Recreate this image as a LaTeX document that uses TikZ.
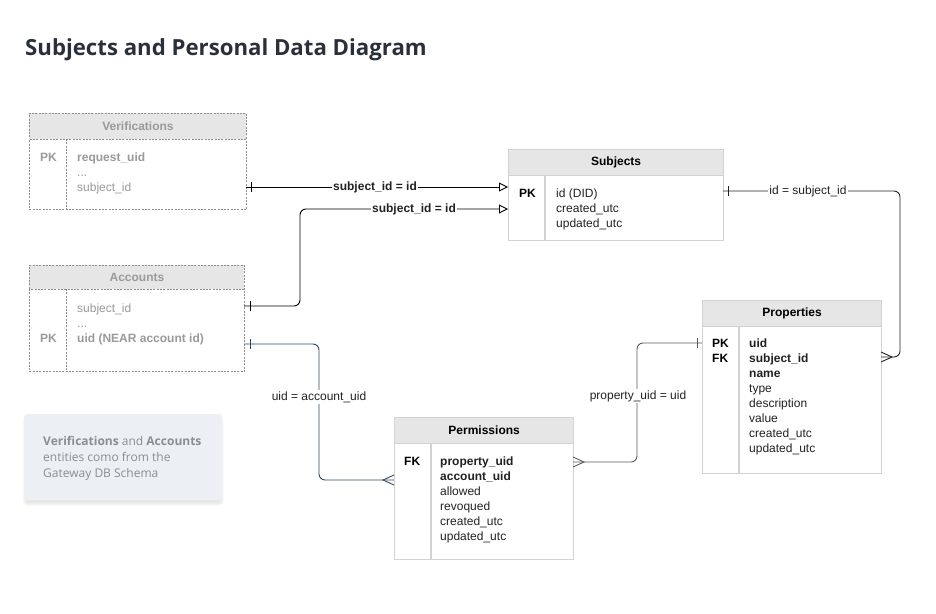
\documentclass[tikz,border=0pt]{standalone}
\usepackage{fontspec}
\setmainfont{Liberation Sans}
\newfontfamily\titlefont{Open Sans}
\usetikzlibrary{arrows.meta,shadows.blur}
\definecolor{hdr}{HTML}{E6E6E6}
\definecolor{bord}{HTML}{D2D2D2}
\definecolor{dbord}{HTML}{8E8E8E}
\definecolor{ltxt}{HTML}{9A9A9A}
\definecolor{txt}{HTML}{222222}
\definecolor{ttl}{HTML}{2A303B}
\definecolor{notebg}{HTML}{ECEFF3}
\definecolor{notetxt}{HTML}{8A8D92}
\definecolor{slate}{HTML}{34495E}
\definecolor{cgray}{HTML}{5A5A5A}
\newcommand\fs{\fontsize{12}{15}\selectfont}
\tikzset{
  tbl/.style={draw=bord, line width=1.3pt, fill=white, anchor=north west, inner sep=0pt},
  hdrbox/.style={tbl, fill=hdr, font=\fs\bfseries, text=black},
  dtbl/.style={draw=dbord, dash pattern=on 2pt off 1.3pt, line width=0.9pt, fill=white, anchor=north west, inner sep=0pt},
  dhdr/.style={dtbl, fill=hdr, font=\fs\bfseries, text=ltxt},
  fld/.style={anchor=base west, inner sep=0pt, font=\fs, text=txt},
  dfld/.style={fld, text=ltxt},
  key/.style={fld, font=\fs\bfseries, text=black},
  dkey/.style={fld, font=\fs\bfseries, text=ltxt},
  notet/.style={anchor=base west, inner sep=0pt, text=notetxt, font=\titlefont\fontsize{12}{16}\selectfont},
  lbl/.style={fill=white, inner sep=1.5pt, font=\fs, text=txt},
  conn/.style={line width=0.9pt, rounded corners=6pt},
  tickm/.style={line width=0.9pt},
  opentri/.style={-{Triangle[open, length=9pt, width=9pt, fill=white]}},
}
\begin{document}
\begin{tikzpicture}[x=1pt, y=-1pt]
\useasboundingbox (0,0) rectangle (936,613);

% title
\node[anchor=base west, inner sep=0pt, font=\titlefont\fontsize{22.2}{26}\selectfont\bfseries, text=ttl] (title) at (25,55) {Subjects and Personal Data Diagram};

% ---------- Verifications (dashed)
\node[dhdr, minimum width=217pt, minimum height=26pt] (verH) at (29,113) {Verifications};
\node[dtbl, minimum width=217pt, minimum height=70pt] (verB) at (29,139) {};
\draw[draw=dbord, dash pattern=on 2pt off 1.3pt, line width=0.9pt] (66,139) -- (66,209);
\node[dkey] (verPK) at (40,161) {PK};
\node[dkey] (verF1) at (77,161) {request\_uid};
\node[dfld] (verF2) at (77,176) {...};
\node[dfld] (verF3) at (77,191) {subject\_id};

% ---------- Accounts (dashed)
\node[dhdr, minimum width=215pt, minimum height=24pt] (accH) at (29,265) {Accounts};
\node[dtbl, minimum width=215pt, minimum height=82pt] (accB) at (29,289) {};
\draw[draw=dbord, dash pattern=on 2pt off 1.3pt, line width=0.9pt] (66,289) -- (66,371);
\node[dfld] (accF1) at (77,312) {subject\_id};
\node[dfld] (accF2) at (77,327) {...};
\node[dkey] (accPK) at (40,342) {PK};
\node[dkey] (accF3) at (77,342) {uid (NEAR account id)};

% ---------- Subjects
\node[hdrbox, minimum width=215pt, minimum height=26pt] (subH) at (508,149) {Subjects};
\node[tbl, minimum width=215pt, minimum height=65pt] (subB) at (508,175) {};
\draw[draw=bord, line width=1.3pt] (545,175) -- (545,240);
\node[key] (subPK) at (519,197) {PK};
\foreach \t [count=\i from 0] in {id (DID),created\_utc,updated\_utc}
  \node[fld] (subF\i) at (556,{197+15*\i}) {\t};

% ---------- Properties
\node[hdrbox, minimum width=179pt, minimum height=26pt] (proH) at (702,300) {Properties};
\node[tbl, minimum width=179pt, minimum height=147pt] (proB) at (702,326) {};
\draw[draw=bord, line width=1.3pt] (739,326) -- (739,473);
\node[key] (proPK) at (712,347) {PK};
\node[key] (proFK) at (712,362) {FK};
\foreach \t [count=\i from 0] in {{\textbf{uid}},{\textbf{subject\_id}},{\textbf{name}},type,description,value,created\_utc,updated\_utc}
  \node[fld] (proF\i) at (749,{347+15*\i}) {\t};

% ---------- Permissions
\node[hdrbox, minimum width=179pt, minimum height=26pt] (perH) at (394,417) {Permissions};
\node[tbl, minimum width=179pt, minimum height=116pt] (perB) at (394,443) {};
\draw[draw=bord, line width=1.3pt] (431,443) -- (431,559);
\node[key] (perFK) at (404,465) {FK};
\foreach \t [count=\i from 0] in {{\textbf{property\_uid}},{\textbf{account\_uid}},allowed,revoqued,created\_utc,updated\_utc}
  \node[fld] (perF\i) at (440,{465+15*\i}) {\t};

% ---------- note
\node[anchor=north west, minimum width=198pt, minimum height=86pt, fill=notebg, rounded corners=3pt,
      blur shadow={shadow xshift=0pt, shadow yshift=-4pt, shadow opacity=10, shadow blur steps=6}] (note) at (24,414) {};
\node[notet] (noteT1) at (43,445) {\textbf{Verifications} and \textbf{Accounts}};
\node[notet] (noteT2) at (43,461) {entities como from the};
\node[notet] (noteT3) at (43,477) {Gateway DB Schema};

% ---------- connector anchor points
\coordinate (verOut) at (246,187);
\coordinate (subIn1) at (508,187);
\coordinate (accOut1) at (244,306);
\coordinate (subIn2) at (508,209);
\coordinate (subOut) at (723,191);
\coordinate (proIn) at (881,357);
\coordinate (accOut2) at (244,344);
\coordinate (perIn) at (394,480);
\coordinate (perOut) at (573,462);
\coordinate (proIn2) at (702,343);

% 1: Verifications -> Subjects
\draw[conn, opentri, draw=black] (verOut) -- (subIn1);
\draw[tickm, draw=black] (251,182) -- (251,192);
\node[lbl, font=\fs\bfseries] (l1) at (375,187) {subject\_id = id};

% 2: Accounts -> Subjects
\draw[conn, opentri, draw=black] (accOut1) -| (300,250) |- (subIn2);
\draw[tickm, draw=black] (250,301) -- (250,311);
\node[lbl, font=\fs\bfseries] (l2) at (414,209) {subject\_id = id};

% 3: Subjects -> Properties
\draw[conn, draw=txt] (subOut) -- (900,191) -- (900,357) -- (proIn);
\draw[tickm, draw=txt] (728,186) -- (728,196);
\draw[tickm, draw=txt, rounded corners=0pt] (881,352) -- (892,357) -- (881,362);
\node[lbl] (l3) at (808,191) {id = subject\_id};

% 4: Accounts -> Permissions
\draw[conn, draw=slate] (accOut2) -- (319,344) -- (319,480) -- (perIn);
\draw[tickm, draw=slate] (250,339) -- (250,349);
\draw[tickm, draw=slate, rounded corners=0pt] (394,475) -- (383,480) -- (394,485);
\node[lbl] (l4) at (319,397) {uid = account\_uid};

% 5: Permissions -> Properties
\draw[conn, draw=cgray] (perOut) -- (637,462) -- (637,343) -- (proIn2);
\draw[tickm, draw=cgray, rounded corners=0pt] (573,457) -- (584,462) -- (573,467);
\draw[tickm, draw=cgray] (697,338) -- (697,348);
\node[lbl] (l5) at (638,396) {property\_uid = uid};
\end{tikzpicture}
\end{document}
